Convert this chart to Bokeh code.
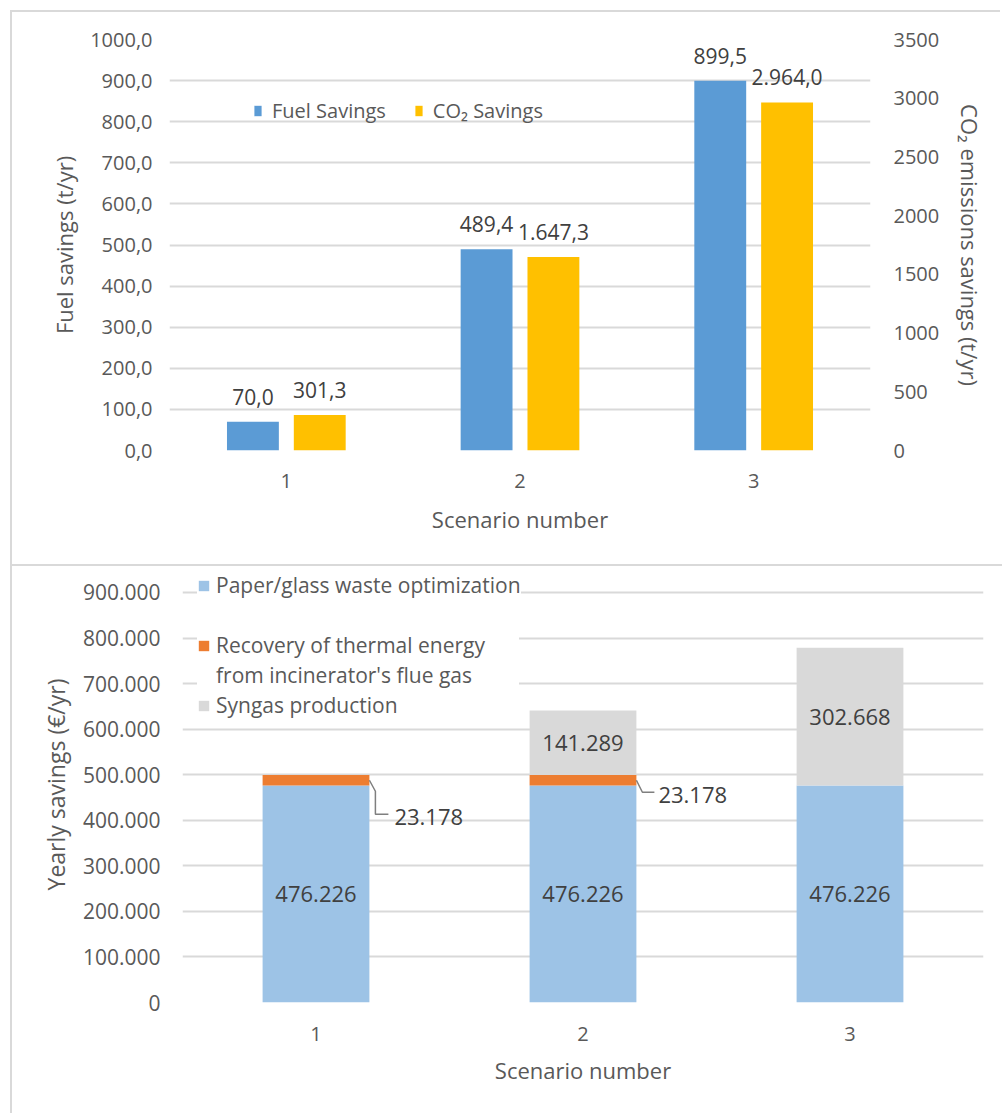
from bokeh.plotting import figure
from bokeh.models import Range1d, LinearAxis, FixedTicker, Legend, LegendItem, ColumnDataSource
from bokeh.transform import dodge
from bokeh.embed import file_html
from bokeh.resources import INLINE
from bokeh.core.properties import value

# ---------------- data ----------------
scenarios = [1, 2, 3]
fuel_savings = [70.0, 489.4, 899.5]
co2_savings = [301.3, 1647.3, 2964.0]
fuel_labels = ["70,0", "489,4", "899,5"]
co2_labels = ["301,3", "1.647,3", "2.964,0"]
left_ticks = [0, 100, 200, 300, 400, 500, 600, 700, 800, 900, 1000]
left_tick_labels = ["0,0", "100,0", "200,0", "300,0", "400,0", "500,0",
                    "600,0", "700,0", "800,0", "900,0", "1000,0"]
right_ticks = [0, 500, 1000, 1500, 2000, 2500, 3000, 3500]

paper = [476226, 476226, 476226]
recovery = [23178, 23178, 0]
syngas = [0, 141289, 302668]
paper_labels = ["476.226", "476.226", "476.226"]
recovery_labels = ["23.178", "23.178", ""]
syngas_labels = ["", "141.289", "302.668"]
bottom_ticks = [0, 100000, 200000, 300000, 400000, 500000, 600000, 700000, 800000, 900000]
bottom_tick_labels = ["0", "100.000", "200.000", "300.000", "400.000", "500.000",
                      "600.000", "700.000", "800.000", "900.000"]

# ---------------- style ----------------
FONT = "Open Sans"
AX_COL = "#595959"
LBL_COL = "#404040"
GRID = "#d9d9d9"
BLUE = "#5b9bd5"
GOLD = "#ffc000"
LBLUE = "#9dc3e6"
ORANGE = "#ed7d31"
GREY = "#d9d9d9"
BORDER = {"border-left": "2px solid #d9d9d9", "border-top": "2px solid #d9d9d9"}


def style_axis(ax, label_standoff, axis_label_standoff, tick_size="20px", title_size="20px"):
    ax.axis_line_color = None
    ax.major_tick_line_color = None
    ax.minor_tick_line_color = None
    ax.major_tick_out = 0
    ax.minor_tick_out = 0
    ax.major_label_text_font = FONT
    ax.major_label_text_font_size = tick_size
    ax.major_label_text_color = AX_COL
    ax.axis_label_text_font = FONT
    ax.axis_label_text_font_size = title_size
    ax.axis_label_text_font_style = "normal"
    ax.axis_label_text_color = AX_COL
    ax.major_label_standoff = label_standoff
    ax.axis_label_standoff = axis_label_standoff


# ================= top chart =================
p1 = figure(frame_width=701, frame_height=411, x_range=Range1d(0.5, 3.5), y_range=Range1d(0, 1000),
            output_backend="svg", toolbar_location=None,
            min_border_left=157, min_border_right=130, min_border_top=27, min_border_bottom=114,
            styles=BORDER, margin=(10, 0, 0, 10))
p1.outline_line_color = None
p1.extra_y_ranges = {"co2": Range1d(0, 3500)}

src1 = ColumnDataSource(dict(x=scenarios, fuel=fuel_savings, co2=co2_savings,
                             fuel_label=fuel_labels, co2_label=co2_labels))
DOD = 0.143
BW = 0.222
r_fuel = p1.vbar(x=dodge("x", -DOD), top="fuel", width=BW, source=src1,
                 fill_color=BLUE, line_color=None)
r_co2 = p1.vbar(x=dodge("x", DOD), top="co2", width=BW, source=src1,
                fill_color=GOLD, line_color=None, y_range_name="co2")

txt = dict(text_align="center", text_baseline="middle", y_offset=-25,
           text_font=value(FONT), text_font_size="21px", text_color=LBL_COL)
p1.text(x=dodge("x", -DOD), y="fuel", text="fuel_label", source=src1, **txt)
p1.text(x=dodge("x", DOD), y="co2", text="co2_label", source=src1, y_range_name="co2", **txt)

p1.xaxis.ticker = FixedTicker(ticks=scenarios)
p1.xaxis.axis_label = "Scenario number"
style_axis(p1.xaxis[0], 23, 13, title_size="22px")

p1.yaxis.ticker = FixedTicker(ticks=left_ticks)
p1.yaxis.major_label_overrides = {t: l for t, l in zip(left_ticks, left_tick_labels)}
p1.yaxis.axis_label = "Fuel savings (t/yr)"
style_axis(p1.yaxis[0], 17, 8, title_size="22px")

rax = LinearAxis(y_range_name="co2", ticker=FixedTicker(ticks=right_ticks),
                 axis_label="CO\u2082 emissions savings (t/yr)")
style_axis(rax, 23, 13, title_size="22px")
p1.add_layout(rax, "right")

p1.xgrid.grid_line_color = None
p1.ygrid.ticker = FixedTicker(ticks=left_ticks)
p1.ygrid.grid_line_color = GRID
p1.ygrid.grid_line_width = 2

leg1 = Legend(items=[LegendItem(label="Fuel Savings", renderers=[r_fuel]),
                     LegendItem(label="CO\u2082 Savings", renderers=[r_co2])],
              orientation="horizontal", location=(84, 326), padding=0, margin=0,
              spacing=28, glyph_width=9, glyph_height=13, label_standoff=10,
              border_line_color=None, background_fill_alpha=0,
              label_text_font=FONT, label_text_font_size="20px", label_text_color=AX_COL)
p1.add_layout(leg1)

# ================= bottom chart =================
p2 = figure(frame_width=801, frame_height=436, x_range=Range1d(0.5, 3.5),
            y_range=Range1d(0, 957000),
            output_backend="svg", toolbar_location=None,
            min_border_left=170, min_border_right=19, min_border_top=0, min_border_bottom=111,
            styles=BORDER, margin=(0, 0, 0, 10))
p2.outline_line_color = None

BW2 = 0.4
src2 = ColumnDataSource(dict(
    x=scenarios, paper=paper, recovery=recovery, syngas=syngas,
    paper_mid=[p / 2 for p in paper],
    syn_mid=[p + r + s / 2 for p, r, s in zip(paper, recovery, syngas)],
    paper_label=paper_labels, syngas_label=syngas_labels))
rs = p2.vbar_stack(["paper", "recovery", "syngas"], x="x", width=BW2, source=src2,
                   fill_color=[LBLUE, ORANGE, GREY], line_color=None)

txt2 = dict(text_align="center", text_baseline="middle",
            text_font=value(FONT), text_font_size="22px", text_color=LBL_COL)
p2.text(x="x", y="paper_mid", text="paper_label", source=src2, **txt2)
p2.text(x="x", y="syn_mid", text="syngas_label", source=src2, **txt2)

# leader lines for the thin orange segment (pixel offsets converted to data units)
PX_X = 3 / 801
PX_Y = 900000 / 410
leader_shapes = [[(0, 0), (6, -11), (6, -34), (19, -34)],
                 [(0, 0), (6, -12), (18, -12)]]
leader_label_off = [(25, 37), (22, 15)]
for i, (sx, p, r, lab) in enumerate(zip(scenarios, paper, recovery, recovery_labels)):
    if r <= 0:
        continue
    x0 = sx + BW2 / 2
    y0 = p + r / 2
    shape = leader_shapes[i]
    p2.line(x=[x0 + dx * PX_X for dx, dy in shape], y=[y0 + dy * PX_Y for dx, dy in shape],
            line_color="#7f7f7f", line_width=1.5)
    ox, oy = leader_label_off[i]
    p2.text(x=[x0], y=[y0], text=[lab], x_offset=ox, y_offset=oy, text_align="left",
            text_baseline="middle", text_font=value(FONT), text_font_size="22px",
            text_color=LBL_COL)

p2.xaxis.ticker = FixedTicker(ticks=scenarios)
p2.xaxis.axis_label = "Scenario number"
style_axis(p2.xaxis[0], 24, 11, title_size="22px")

p2.yaxis.ticker = FixedTicker(ticks=bottom_ticks)
p2.yaxis.major_label_overrides = {t: l for t, l in zip(bottom_ticks, bottom_tick_labels)}
p2.yaxis.axis_label = "Yearly savings (\u20ac/yr)"
style_axis(p2.yaxis[0], 22, 8, tick_size="21px", title_size="23px")

p2.xgrid.grid_line_color = None
p2.ygrid.ticker = FixedTicker(ticks=bottom_ticks)
p2.ygrid.grid_line_color = GRID
p2.ygrid.grid_line_width = 2

# invisible renderer used for the wrapped second line of a legend label
r_blank = p2.vbar(x=[], top=[], width=BW2, fill_alpha=0, line_alpha=0)

leg_common = dict(padding=6, margin=0, glyph_width=13, glyph_height=13, label_standoff=6,
                  label_height=24, label_width=303, border_line_color=None,
                  background_fill_color="white", background_fill_alpha=1,
                  label_text_font=FONT, label_text_font_size="21px",
                  label_text_color=AX_COL, label_text_line_height=1.2)
leg2a = Legend(items=[LegendItem(label="Paper/glass waste optimization", renderers=[rs[0]])],
               location=(15, 403), **leg_common)
leg2b = Legend(items=[LegendItem(label="Recovery of thermal energy", renderers=[rs[1]]),
                      LegendItem(label="from incinerator's flue gas", renderers=[r_blank]),
                      LegendItem(label="Syngas production", renderers=[rs[2]])],
               location=(15, 283), spacing=2, **leg_common)
p2.add_layout(leg2a)
p2.add_layout(leg2b)

open("out.html", "w").write(file_html([p1, p2], INLINE))
